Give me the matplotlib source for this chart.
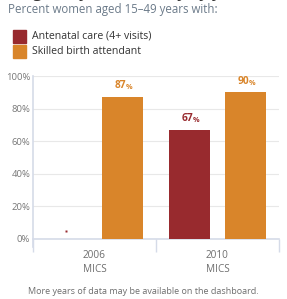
import matplotlib
matplotlib.use("Agg")
import matplotlib.pyplot as plt
import numpy as np

categories = ["2006\nMICS", "2010\nMICS"]
series_names = ["Antenatal care (4+ visits)", "Skilled birth attendant"]
antenatal = [None, 67]
skilled = [87, 90]
yticks = [0, 20, 40, 60, 80, 100]
ytick_labels = ["0%", "20%", "40%", "60%", "80%", "100%"]

RED = "#982a2e"
ORANGE = "#d9852a"
GRAY = "#6e6e6e"
AXC = "#d5dbe8"

plt.rcParams['font.family'] = ['Open Sans', 'DejaVu Sans']

fig = plt.figure(figsize=(2.87, 2.99), dpi=100)
ax = fig.add_axes([33/287, 1-239/299, (279-33)/287, (239-76)/299])

x = np.arange(len(categories))
w = 0.333
off = 0.228
NUM_FS = 7.3
PCT_FS = 5.2
for i, v in enumerate(antenatal):
    if v is None:
        ax.plot([x[i]-off], [5], marker='s', color=RED, markersize=2.0, mec='none', clip_on=False)
    else:
        ax.bar(x[i]-off, v, w, color=RED, zorder=3)
        ax.text(x[i]-off+0.03, v+3.5, f"{v}", color=RED, ha='right', va='bottom', fontsize=NUM_FS, fontweight='bold')
        ax.text(x[i]-off+0.03, v+3.5, "%", color=RED, ha='left', va='bottom', fontsize=PCT_FS, fontweight='bold')
for i, v in enumerate(skilled):
    ax.bar(x[i]+off, v, w, color=ORANGE, zorder=3)
    ax.text(x[i]+off+0.03, v+3.5, f"{v}", color=ORANGE, ha='right', va='bottom', fontsize=NUM_FS, fontweight='bold')
    ax.text(x[i]+off+0.03, v+3.5, "%", color=ORANGE, ha='left', va='bottom', fontsize=PCT_FS, fontweight='bold')

ax.set_xlim(-0.5, 1.5)
ax.set_ylim(0, 100)
ax.set_yticks(yticks)
ax.set_yticklabels(ytick_labels, fontsize=6.8, color="#777777")
ax.yaxis.grid(True, color="#e8e8e8", linewidth=0.8, zorder=0)
ax.set_axisbelow(True)
ax.tick_params(axis='y', length=0, pad=2)
ax.set_xticks([-0.5, 0.5, 1.5], minor=False)
ax.set_xticklabels([])
ax.tick_params(axis='x', which='major', length=9, color=AXC, width=1)
ax.set_xticks(x, minor=True)
ax.set_xticklabels(categories, minor=True, fontsize=7.2, color=GRAY, linespacing=1.3)
ax.tick_params(axis='x', which='minor', length=0, pad=8)
for s in ['top', 'right']:
    ax.spines[s].set_visible(False)
ax.spines['left'].set_color(AXC)
ax.spines['bottom'].set_color(AXC)
ax.spines['left'].set_linewidth(1.2)
ax.spines['bottom'].set_linewidth(1.2)
ax.spines['left'].set_bounds(-5, 100)
ax.set_ylim(0, 100)

# Texts
fig.text(8/287, 1+1.5/299, "Pregnancy and delivery by year", fontsize=11, color="#333333", fontweight='bold', va='baseline', ha='left')
fig.text(8/287, 1-10/299, "Percent women aged 15–49 years with:", fontsize=8.3, color="#6b7a89", va='center', ha='left')
for j, (name, col) in enumerate(zip(series_names, [RED, ORANGE])):
    yc = 1 - (36 + j*15)/299
    fig.patches.append(plt.Rectangle((13/287, yc - 6.5/299), 13/287, 13/299, transform=fig.transFigure, color=col))
    fig.text(32/287, yc, name, fontsize=7.6, color="#333333", va='center', ha='left')
fig.text(143/287, 1-292/299, "More years of data may be available on the dashboard.", fontsize=6.5, color=GRAY, ha='center', va='center')

fig.savefig("out.png", dpi=100)
